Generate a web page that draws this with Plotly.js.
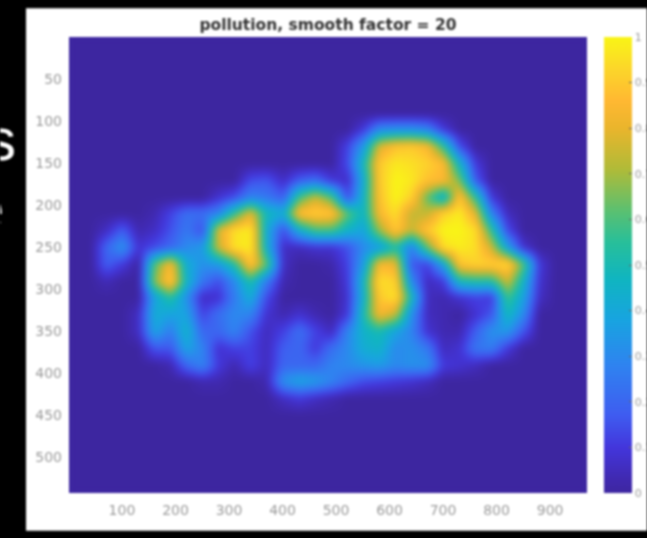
<!DOCTYPE html>
<html><head><meta charset="utf-8">
<script src="https://cdn.plot.ly/plotly-3.0.1.min.js"></script>
<style>html,body{margin:0;padding:0;background:#000;overflow:hidden}#g{width:647px;height:538px;filter:blur(1px)}.hm image{filter:blur(3px)}</style>
</head><body><div id="g"></div>
<script>
const titleText = 'pollution, smooth factor = 20';
const xTicks = [100,200,300,400,500,600,700,800,900];
const yTicks = [50,100,150,200,250,300,350,400,450,500];
const cbTicks = [0,0.1,0.2,0.3,0.4,0.5,0.6,0.7,0.8,0.9,1];
const xs = [1,40,70,100,130,160,190,220,250,280,310,340,370,400,430,460,490,520,550,580,610,640,670,700,730,760,790,820,850,880,910,969];
const ys = [1,70,90,110,130,150,170,190,210,230,250,270,290,310,330,350,370,390,410,430,450,540];
// percent of full scale; columns x=40..910
const r0   = [0,0,0,0,0,0,0,0,0,0,0,0,0,0,0,0,0,0,0,0,0,0,0,0,0,0,0,0,0,0];
const r90  = [0,0,0,0,0,0,0,0,0,0,0,0,0,0,0,0,0,0,0,0,0,0,0,0,0,0,0,0,0,0];
const r110 = [0,0,0,0,0,0,0,0,0,0,0,0,0,0,0,0,0,10,30,32,32,28,10,0,0,0,0,0,0,0];
const r130 = [0,0,0,0,0,0,0,0,0,0,0,0,0,0,0,0,12,35,78,88,90,85,55,15,0,0,0,0,0,0];
const r150 = [0,0,0,0,0,0,0,0,0,0,0,0,0,0,0,0,14,48,90,97,95,92,86,45,10,0,0,0,0,0];
const r170 = [0,0,0,0,0,0,0,0,0,0,14,16,6,18,22,10,6,42,90,100,97,88,85,65,18,0,0,0,0,0];
const r190 = [0,0,0,0,0,0,0,0,8,15,28,25,18,58,75,60,14,45,88,100,92,62,40,90,55,10,0,0,0,0];
const r210 = [0,0,0,0,3,12,22,22,28,55,80,48,42,88,92,90,62,45,85,95,74,74,92,98,80,28,5,0,0,0];
const r230 = [0,6,18,3,6,15,25,14,78,95,98,42,14,42,58,58,45,38,68,90,74,90,100,100,95,55,14,0,0,0];
const r250 = [0,20,33,8,14,20,30,35,75,96,98,44,6,5,8,8,15,30,35,52,26,62,95,98,95,76,38,8,0,0];
const r270 = [0,18,10,0,60,86,42,32,35,52,90,62,6,0,0,2,12,36,85,82,16,12,38,88,92,92,95,60,10,0];
const r290 = [0,4,0,0,66,92,46,24,14,30,52,26,3,0,0,0,10,46,95,92,30,5,10,48,52,52,76,46,8,0];
const r310 = [0,0,0,0,38,54,32,6,8,26,42,14,0,0,0,0,8,44,90,96,48,5,3,8,12,10,58,38,6,0];
const r330 = [0,0,0,6,42,38,38,12,22,30,28,8,3,8,3,0,10,50,84,74,32,5,3,0,8,16,48,30,0,0];
const r350 = [0,0,0,6,38,26,45,20,20,28,15,5,12,22,12,5,28,45,50,38,28,8,3,3,18,32,34,16,0,0];
const r370 = [0,0,0,0,16,16,38,28,8,12,12,5,18,20,10,22,30,42,45,30,32,25,5,8,24,26,10,0,0,0];
const r390 = [0,0,0,0,0,3,20,28,10,3,12,5,20,20,20,28,30,33,35,30,32,32,10,8,5,0,0,0,0,0];
const r410 = [0,0,0,0,0,0,0,3,3,0,0,3,32,38,35,28,20,14,12,10,8,5,0,0,0,0,0,0,0,0];
const r430 = [0,0,0,0,0,0,0,0,0,0,0,0,6,10,6,3,0,0,0,0,0,0,0,0,0,0,0,0,0,0];
const rows = [r0,r0,r90,r110,r130,r150,r170,r190,r210,r230,r250,r270,r290,r310,r330,r350,r370,r390,r410,r430,r0,r0];
const stops = [0,0.03,0.1,0.17,0.28,0.38,0.47,0.55,0.62,0.71,0.8,0.86,0.93,1];
const stopColors = ['#3d26a0','#4029b0','#4336dc','#3f5cf0','#2f83f0','#18a4e0','#10b5c0','#28bf9a','#5cc070','#b0bb38','#eab52c','#ffb832','#fcd62a','#f9f516'];
const z = rows.map(r => [0,...r,0].map(v => v/100));
Plotly.newPlot('g',[{
  type:'heatmap', x:xs, y:ys, z:z, zmin:0, zmax:1, zsmooth:'best',
  colorscale: stops.map((s,i)=>[s,stopColors[i]]),
  colorbar:{x:1.033,xanchor:'left',xpad:0,ypad:0,y:0,yanchor:'bottom',len:1,lenmode:'fraction',thickness:28,thicknessmode:'pixels',
    outlinewidth:0,ticks:'inside',ticklen:3,tickcolor:'#666',tickvals:cbTicks,ticktext:cbTicks.map(String),
    tickfont:{family:'DejaVu Sans',size:11,color:'#9a9a9a'}}
}],{
  width:647,height:538,
  margin:{l:69,r:60,t:37,b:45,autoexpand:false},
  paper_bgcolor:'#000',plot_bgcolor:'#3d26a0',
  title:{text:'<b>'+titleText+'</b>',font:{family:'DejaVu Sans',size:15.5,color:'#333'},x:0.5,xref:'paper',xanchor:'center',y:0.955,yanchor:'middle'},
  xaxis:{range:[1,969],tickvals:xTicks,ticktext:xTicks.map(String),ticks:'',showgrid:false,zeroline:false,showline:false,ticklabelstandoff:7,
    tickfont:{family:'DejaVu Sans',size:14,color:'#9a9a9a'}},
  yaxis:{range:[543,0],tickvals:yTicks,ticktext:yTicks.map(String),ticks:'',showgrid:false,zeroline:false,showline:false,ticklabelstandoff:6,
    tickfont:{family:'DejaVu Sans',size:14,color:'#9a9a9a'}},
  shapes:[
   {type:'rect',layer:'below',xref:'paper',yref:'paper',x0:-0.083,x1:1.15,y0:-0.083,y1:1.063,fillcolor:'#fff',line:{width:0}},
   {type:'rect',layer:'below',xref:'paper',yref:'paper',x0:0,x1:1,y0:0,y1:1,fillcolor:'#3d26a0',line:{width:0}}
  ],
  annotations:[
   {text:'s',xref:'paper',yref:'paper',x:-0.098,y:0.775,xanchor:'right',yanchor:'middle',showarrow:false,font:{family:'Liberation Sans',size:60,color:'#fff'}},
   {text:'e',xref:'paper',yref:'paper',x:-0.122,y:0.625,xanchor:'right',yanchor:'middle',showarrow:false,font:{family:'Liberation Sans',size:60,color:'#fff'}}
  ]
},{displayModeBar:false});
</script></body></html>
